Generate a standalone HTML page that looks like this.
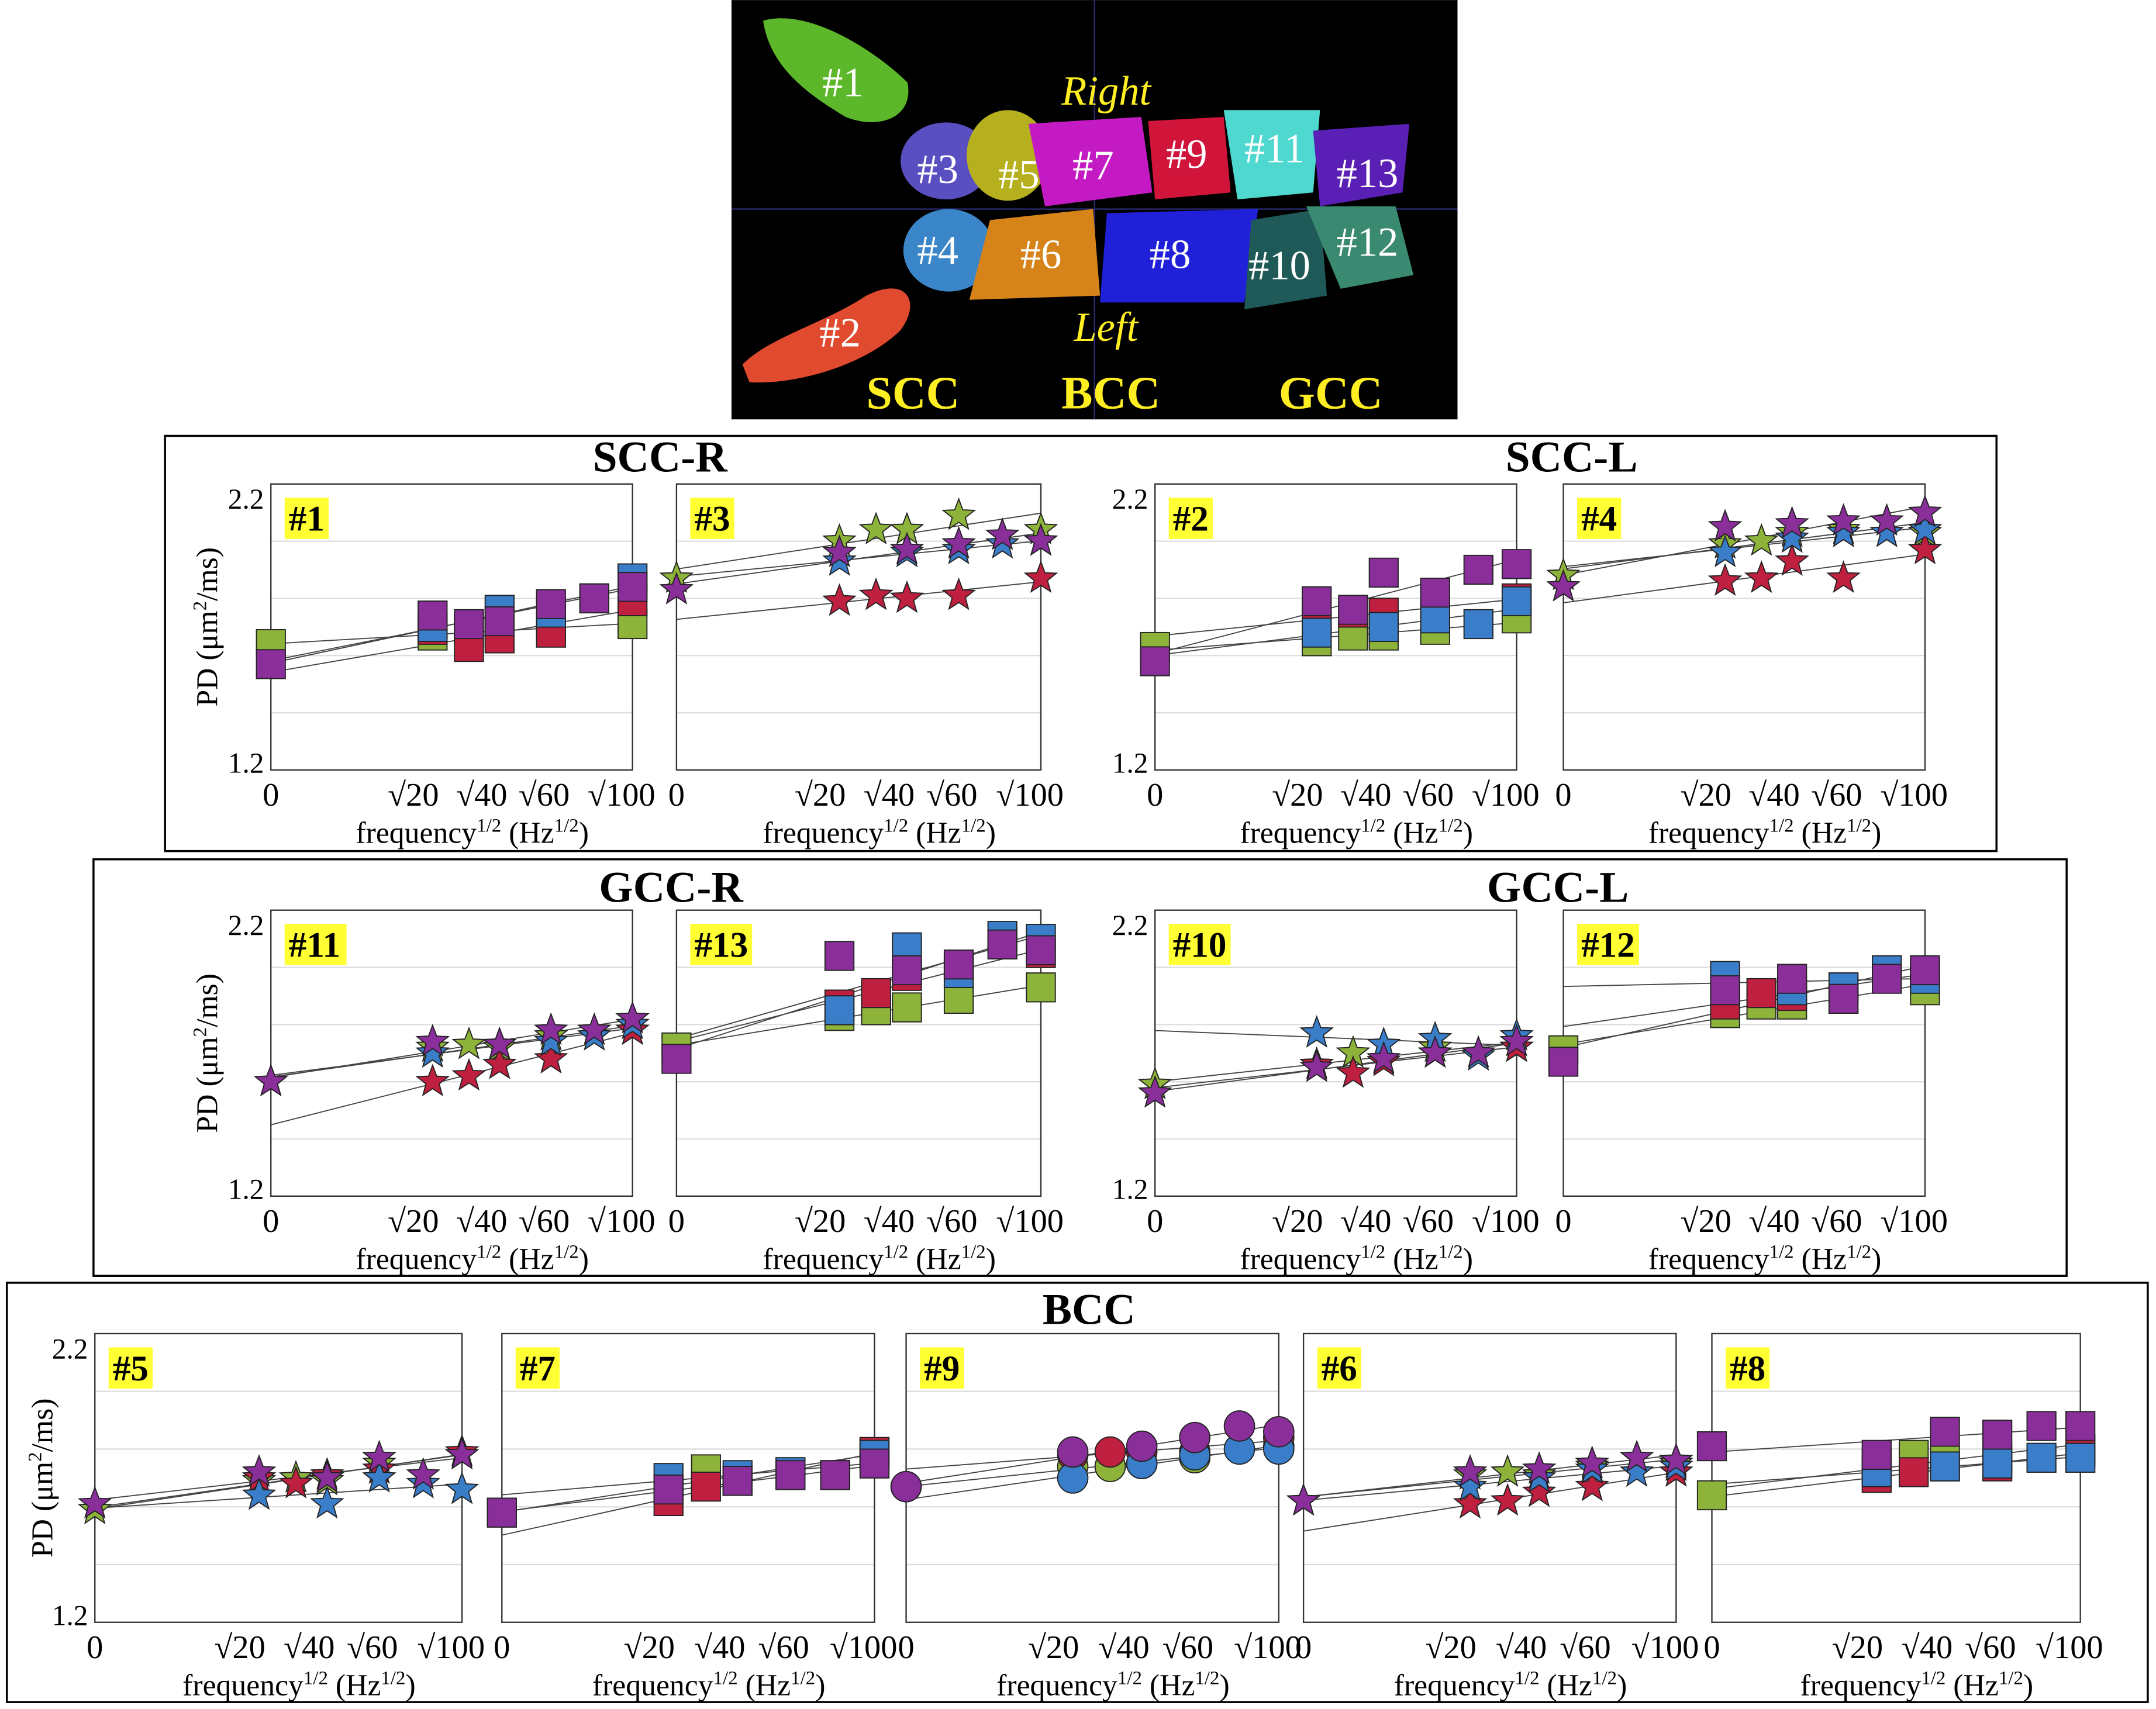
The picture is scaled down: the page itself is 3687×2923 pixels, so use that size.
<!DOCTYPE html>
<html><head><meta charset="utf-8">
<style>html,body{margin:0;padding:0;background:#fff}svg{display:block}</style>
</head><body>
<svg id="s" xmlns="http://www.w3.org/2000/svg" width="3687" height="2923" viewBox="0 0 1568 1243" font-family="Liberation Serif, serif">
<rect width="1568" height="1243" fill="#fff"/>
<rect x="532" y="0" width="528" height="305" fill="#000"/>
<line x1="532" y1="152" x2="1060" y2="152" stroke="#2a2a70" stroke-width="1"/>
<line x1="796" y1="0" x2="796" y2="305" stroke="#2a2a70" stroke-width="1"/>
<g stroke="none">
<path d="M555,15 C590,5 640,40 660,60 C665,85 640,95 615,85 C590,70 560,50 555,15Z" fill="#5cb82a"/>
<path d="M540,265 C560,245 600,235 630,215 C660,200 670,220 655,240 C630,265 580,280 545,278Z" fill="#e04a2e"/>
<ellipse cx="688" cy="117" rx="33" ry="28" fill="#5a4fc0"/>
<ellipse cx="733" cy="113" rx="30" ry="33" fill="#b6b01e"/>
<path d="M748,90 L830,85 L838,140 L760,150Z" fill="#c41ac4"/>
<path d="M835,88 L890,85 L895,140 L840,145Z" fill="#d0143a"/>
<path d="M890,80 L960,80 L955,140 L900,145Z" fill="#4fd8d0"/>
<path d="M955,95 L1025,90 L1020,140 L960,150Z" fill="#5a1fb5"/>
<ellipse cx="690" cy="182" rx="33" ry="30" fill="#3a86c8"/>
<path d="M720,160 L795,152 L800,215 L705,218Z" fill="#d6841a"/>
<path d="M805,155 L915,152 L905,220 L800,220Z" fill="#2020d8"/>
<path d="M910,160 L960,152 L965,215 L905,225Z" fill="#1f5a58"/>
<path d="M950,150 L1015,150 L1028,200 L975,210Z" fill="#3a8a72"/>
</g>
<g fill="#fff" font-size="30">
<text x="598" y="70">#1</text><text x="596" y="252">#2</text><text x="667" y="133">#3</text><text x="667" y="192">#4</text>
<text x="726" y="137">#5</text><text x="742" y="195">#6</text><text x="780" y="130">#7</text><text x="836" y="195">#8</text>
<text x="848" y="122">#9</text><text x="908" y="203">#10</text><text x="905" y="118">#11</text><text x="972" y="186">#12</text><text x="972" y="136">#13</text>
</g>
<g fill="#ffee22" font-size="30"><text x="772" y="76" font-style="italic">Right</text><text x="781" y="248" font-style="italic">Left</text></g>
<g fill="#ffee22" font-size="34" font-weight="bold"><text x="630" y="297">SCC</text><text x="772" y="297">BCC</text><text x="930" y="297">GCC</text></g>
<g fill="none" stroke="#000" stroke-width="1.5">
<rect x="120" y="317" width="1332" height="302"/><rect x="68" y="625" width="1435" height="303"/><rect x="5" y="933" width="1557" height="305"/>
</g>
<g font-size="32" font-weight="bold" text-anchor="middle">
<text x="480" y="343">SCC-R</text><text x="1143" y="343">SCC-L</text>
<text x="488" y="656">GCC-R</text><text x="1133" y="656">GCC-L</text>
<text x="792" y="963">BCC</text>
</g>
<g id="plots"></g>
</svg>
<script>
const C={g:'#8db33a',r:'#c0203f',b:'#3a7dc9',p:'#8a2f9a'};
const F=[0,20,30,40,60,80,100];
const P=[
[197,460,352,560,'#1','sq',true,150,{g:[1.64,1.67,1.69,1.68,1.70,null,1.71],r:[null,1.69,1.63,1.66,1.68,null,1.79],b:[null,1.70,null,1.76,1.75,1.80,1.87],p:[1.57,1.74,1.71,1.72,1.78,1.80,1.84]}],
[492,757,352,560,'#3','st',false,0,{g:[1.87,2.00,2.04,2.04,2.09,null,2.04],r:[null,1.79,1.81,1.80,1.81,null,1.87],b:[null,1.93,null,1.96,1.97,1.99,2.00],p:[1.83,1.96,null,1.97,1.99,2.02,2.00]}],
[840,1103,352,560,'#2','sq',true,0,{g:[1.63,1.65,1.67,1.67,1.69,null,1.73],r:[null,1.72,1.75,1.75,1.76,null,1.80],b:[null,1.68,null,1.70,1.73,1.71,1.79],p:[1.58,1.79,1.76,1.89,1.82,1.90,1.92]}],
[1137,1400,352,560,'#4','st',false,0,{g:[1.88,1.99,2.00,2.03,2.04,null,2.03],r:[null,1.86,1.87,1.93,1.87,null,1.97],b:[null,1.96,null,2.01,2.03,2.03,2.04],p:[1.84,2.05,null,2.06,2.07,2.07,2.10]}],
[197,460,662,870,'#11','st',true,150,{g:[1.60,1.72,1.73,1.72,1.76,null,1.78],r:[null,1.60,1.62,1.66,1.68,null,1.78],b:[null,1.70,null,1.73,1.74,1.76,1.80],p:[1.60,1.74,null,1.73,1.78,1.78,1.82]}],
[492,757,662,870,'#13','sq',false,0,{g:[1.72,1.83,1.85,1.86,1.89,null,1.93],r:[null,1.87,1.91,1.97,2.00,null,2.05],b:[null,1.85,null,2.07,1.98,2.11,2.10],p:[1.68,2.04,null,1.99,2.01,2.08,2.06]}],
[840,1103,662,870,'#10','st',true,0,{g:[1.59,1.66,1.70,1.68,1.72,null,1.72],r:[null,1.66,1.63,1.67,1.70,null,1.72],b:[null,1.77,null,1.73,1.75,1.69,1.76],p:[1.56,1.65,null,1.68,1.70,1.70,1.74]}],
[1137,1400,662,870,'#12','sq',false,0,{g:[1.71,1.84,1.87,1.87,1.89,null,1.92],r:[null,1.87,1.91,1.90,1.93,null,1.98],b:[null,1.97,null,1.92,1.93,1.99,1.96],p:[1.67,1.92,null,1.96,1.89,1.96,1.99]}],
[69,336,970,1180,'#5','st',true,30,{g:[1.59,1.69,1.70,1.69,1.75,null,1.78],r:[null,1.70,1.68,1.71,1.73,null,1.79],b:[null,1.64,null,1.61,1.70,1.68,1.66],p:[1.61,1.72,null,1.70,1.77,1.71,1.78]}],
[365,636,970,1180,'#7','sq',false,0,{g:[1.58,1.66,1.73,1.69,1.72,null,1.79],r:[null,1.62,1.67,1.69,1.71,null,1.79],b:[null,1.70,null,1.71,1.72,1.71,1.78],p:[1.58,1.66,null,1.69,1.71,1.71,1.75]}],
[659,930,970,1180,'#9','ci',false,0,{g:[1.67,1.74,1.74,1.75,1.77,null,1.81],r:[null,1.78,1.79,1.79,1.79,null,1.84],b:[null,1.70,null,1.75,1.78,1.80,1.80],p:[1.67,1.79,null,1.81,1.84,1.88,1.86]}],
[948,1219,970,1180,'#6','st',false,0,{g:[1.62,1.71,1.72,1.71,1.74,null,1.75],r:[null,1.61,1.62,1.65,1.67,null,1.72],b:[null,1.67,null,1.70,1.73,1.72,1.74],p:[1.62,1.72,null,1.73,1.75,1.77,1.76]}],
[1245,1513,970,1180,'#8','sq',false,0,{g:[1.64,1.75,1.78,1.76,1.77,null,1.80],r:[null,1.70,1.72,1.74,1.74,null,1.79],b:[null,1.72,null,1.74,1.75,1.77,1.77],p:[1.81,1.78,null,1.86,1.85,1.88,1.88]}]
];
let h='';
function star(x,y,R){let s='';for(let i=0;i<10;i++){const r=i%2?R*0.42:R;const a=-Math.PI/2+i*Math.PI/5;s+=(x+r*Math.cos(a)).toFixed(1)+','+(y+r*Math.sin(a)).toFixed(1)+' ';}return s;}
for(const [x0,x1,y0,y1,lab,mk,ylab,pdx,D] of P){
  const X=f=>x0+Math.sqrt(f)/10*(x1-x0), Y=v=>y1-(v-1.2)*(y1-y0);
  for(const v of [1.4,1.6,1.8,2.0]) h+=`<line x1="${x0}" x2="${x1}" y1="${Y(v)}" y2="${Y(v)}" stroke="#ddd" stroke-width="1"/>`;
  h+=`<rect x="${x0}" y="${y0}" width="${x1-x0}" height="${y1-y0}" fill="none" stroke="#333" stroke-width="1"/>`;
  for(const k of ['g','r','b','p']){const a=D[k];let n=0,sx=0,sy=0,sxx=0,sxy=0;
    a.forEach((v,i)=>{if(v==null)return;const t=Math.sqrt(F[i]);n++;sx+=t;sy+=v;sxx+=t*t;sxy+=t*v;});
    const b=(n*sxy-sx*sy)/(n*sxx-sx*sx),c=(sy-b*sx)/n;
    h+=`<line x1="${x0}" y1="${Y(c)}" x2="${x1}" y2="${Y(c+b*10)}" stroke="#444" stroke-width="0.8"/>`;}
  for(const k of ['g','r','b','p']){D[k].forEach((v,i)=>{if(v==null)return;const x=X(F[i]),y=Y(v);
    if(mk=='sq')h+=`<rect x="${x-10.5}" y="${y-10.5}" width="21" height="21" fill="${C[k]}" stroke="#222" stroke-width="0.8"/>`;
    else if(mk=='ci')h+=`<circle cx="${x}" cy="${y}" r="11" fill="${C[k]}" stroke="#222" stroke-width="0.8"/>`;
    else h+=`<polygon points="${star(x,y,12)}" fill="${C[k]}" stroke="#222" stroke-width="0.8"/>`;});}
  h+=`<rect x="${x0+10}" y="${y0+10}" width="${lab.length*13+6}" height="30" fill="#ffff33"/><text x="${x0+13}" y="${y0+34}" font-size="26" font-weight="bold">${lab}</text>`;
  if(ylab){h+=`<text x="${x0-5}" y="${y0+18}" font-size="21" text-anchor="end">2.2</text><text x="${x0-5}" y="${y1+2}" font-size="21" text-anchor="end">1.2</text>`;}
  if(pdx){const cy=(y0+y1)/2;h+=`<text transform="translate(${pdx+8},${cy}) rotate(-90)" font-size="22" text-anchor="middle">PD (μm<tspan font-size="14" dy="-8">2</tspan><tspan dy="8">/ms)</tspan></text>`;}
  const ty=y1+26;
  h+=`<text x="${x0}" y="${ty}" font-size="24" text-anchor="middle">0</text>`;
  [[20,-14],[40,-13],[60,-5],[100,-8]].forEach(([f,o])=>{h+=`<text x="${X(f)+o}" y="${ty}" font-size="24" text-anchor="middle">√${f}</text>`;});
  h+=`<text x="${(x0+x1)/2+15}" y="${y1+53}" font-size="22" text-anchor="middle">frequency<tspan font-size="14" dy="-8">1/2</tspan><tspan dy="8"> (Hz</tspan><tspan font-size="14" dy="-8">1/2</tspan><tspan dy="8">)</tspan></text>`;
}
document.getElementById('plots').innerHTML=h;
</script>
</body></html>
